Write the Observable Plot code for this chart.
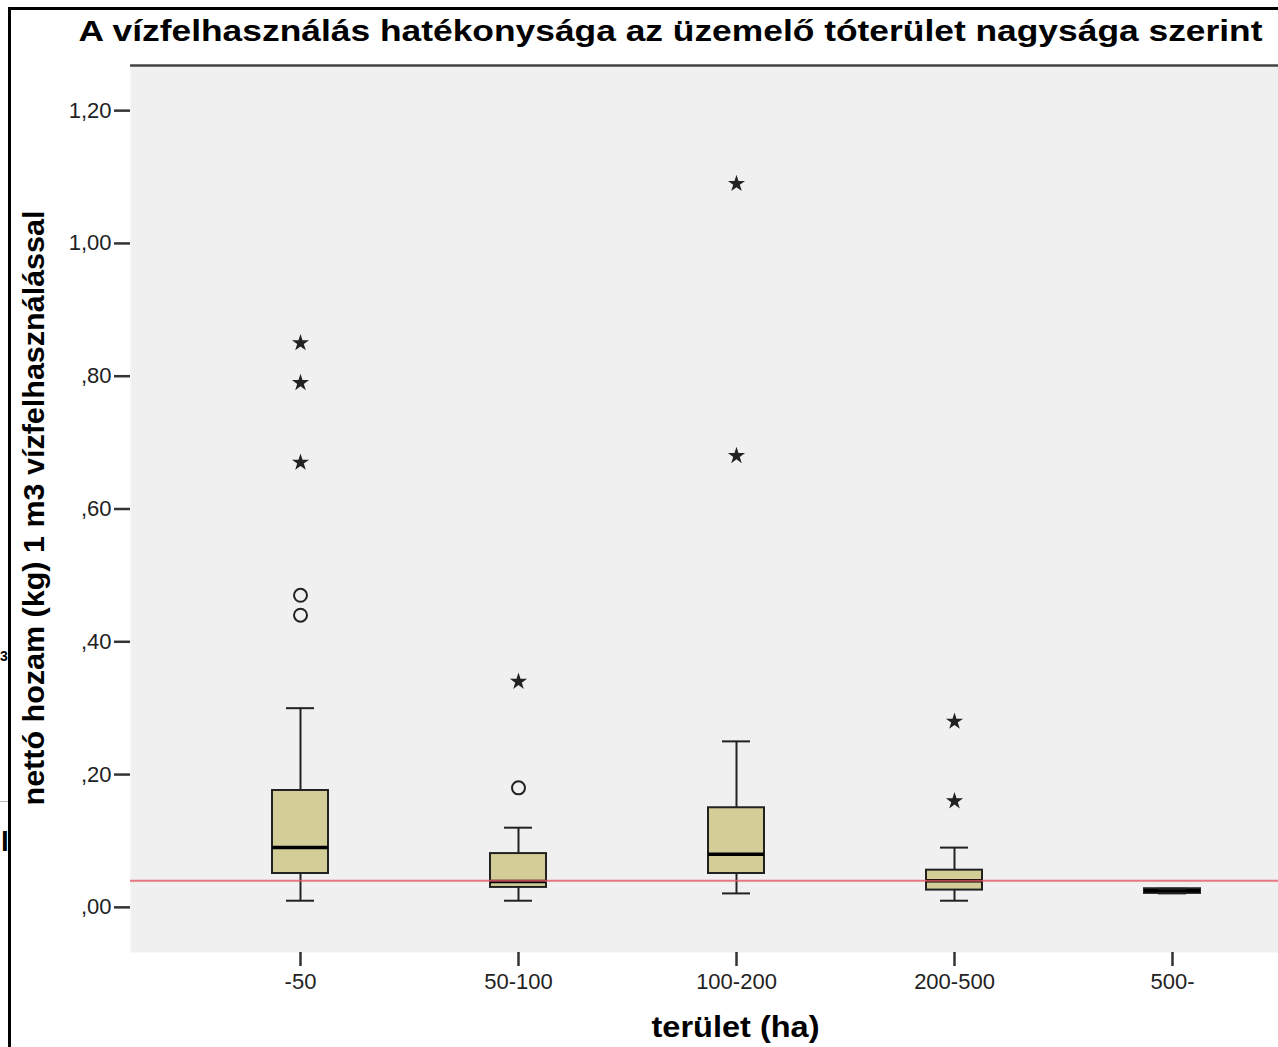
<!DOCTYPE html>
<html>
<head>
<meta charset="utf-8">
<script src="https://cdn.jsdelivr.net/npm/d3@7"></script>
<script src="https://cdn.jsdelivr.net/npm/@observablehq/plot@0.6"></script>
<style>
  html, body { margin: 0; padding: 0; background: #fff; }
  #page { position: relative; width: 1278px; height: 1047px; overflow: hidden; background: #fff;
          font-family: "Liberation Sans", Arial, sans-serif; }
  #chart { position: absolute; left: 0; top: 0; }
  #frame { position: absolute; left: 8px; top: 7px; width: 1300px; height: 1100px;
           border-left: 3px solid #000; border-top: 3px solid #000; pointer-events: none; z-index: 2; }
  .edge { position: absolute; font-weight: bold; color: #000; z-index: 3; line-height: 1; }
  #stub { position: absolute; left: 0; top: 801px; width: 8px; height: 1px; background: #bbb; }
</style>
</head>
<body>
<div id="page">
  <div id="chart"></div>
  <div id="frame"></div>
  <div id="stub"></div>
  <span class="edge" style="left:0px;top:649px;font-size:14px;">3</span>
  <span class="edge" style="left:1px;top:828px;font-size:28px;">l</span>
</div>
<script>
// ---- data ----
const categories   = ["-50", "50-100", "100-200", "200-500", "500-"];
const whiskerLow   = [0.010, 0.010, 0.021, 0.010, 0.021];
const quartile1    = [0.051, 0.030, 0.051, 0.026, 0.021];
const medians      = [0.090, 0.039, 0.080, 0.040, 0.025];
const quartile3    = [0.176, 0.081, 0.150, 0.056, 0.028];
const whiskerHigh  = [0.300, 0.120, 0.250, 0.090, 0.028];

const outlierCats  = ["-50", "-50", "50-100"];
const outlierVals  = [0.47, 0.44, 0.18];

const extremeCats  = ["-50", "-50", "-50", "50-100", "100-200", "100-200", "200-500", "200-500"];
const extremeVals  = [0.85, 0.79, 0.67, 0.34, 1.09, 0.68, 0.28, 0.16];

const referenceLine = [0.04];

const yTicks      = [0, 0.2, 0.4, 0.6, 0.8, 1.0, 1.2];
const yTickLabels = [",00", ",20", ",40", ",60", ",80", "1,00", "1,20"];
const yDomain     = [-0.068, 1.268];

const titleText  = "A vízfelhasználás hatékonysága az üzemelő tóterület nagysága szerint";
const xLabelText = "terület (ha)";
const yLabelText = "nettó hozam (kg) 1 m3 vízfelhasználással";

// ---- tables ----
const boxes = categories.map((c, i) => ({
  cat: c, lo: whiskerLow[i], q1: quartile1[i], med: medians[i], q3: quartile3[i], hi: whiskerHigh[i]
}));
const outliers = outlierCats.map((c, i) => ({cat: c, v: outlierVals[i]}));
const extremes = extremeCats.map((c, i) => ({cat: c, v: extremeVals[i]}));

const FONT = "'Liberation Sans', Arial, sans-serif";
const INK = "#222";

const chart = Plot.plot({
  width: 1278,
  height: 1047,
  marginTop: 65,
  marginLeft: 130,
  marginRight: 0,
  marginBottom: 95,
  style: {fontFamily: FONT, fontSize: "22px", background: "transparent", color: INK},
  x: {type: "band", domain: categories, range: [130, 1342], paddingInner: 0.7437, paddingOuter: 0.6453},
  y: {domain: yDomain},
  marks: [
    Plot.frame({fill: "#f0f0f0", stroke: null}),
    Plot.ruleY([yDomain[1]], {stroke: "#444", strokeWidth: 2.5}),
    Plot.axisY(yTicks, {
      tickSize: 16, tickPadding: 3, line: true, stroke: "#333", strokeWidth: 2.5,
      tickFormat: d => yTickLabels[yTicks.indexOf(d)], label: null, fontSize: 22, fill: INK
    }),
    Plot.axisX({
      tickSize: 14, tickPadding: 7, line: true, stroke: "#333", strokeWidth: 2.5,
      label: null, fontSize: 22, fill: INK
    }),
    // whiskers
    Plot.ruleX(boxes, {x: "cat", y1: "lo", y2: "hi", stroke: INK, strokeWidth: 2}),
    // boxes
    Plot.barY(boxes, {x: "cat", y1: "q1", y2: "q3", fill: "#d3ce97", stroke: INK, strokeWidth: 2}),
    // medians
    Plot.tickY(boxes, {x: "cat", y: "med", stroke: "#000", strokeWidth: 3.5}),
    // whisker caps
    Plot.tickY(boxes, {x: "cat", y: "lo", stroke: INK, strokeWidth: 2, insetLeft: 14, insetRight: 14}),
    Plot.tickY(boxes, {x: "cat", y: "hi", stroke: INK, strokeWidth: 2, insetLeft: 14, insetRight: 14}),
    // outliers and extremes
    Plot.dot(outliers, {x: "cat", y: "v", r: 6.5, stroke: INK, strokeWidth: 2, fill: "none"}),
    Plot.dot(extremes, {x: "cat", y: "v", symbol: "star", r: 5.4, fill: INK, stroke: null}),
    // reference line
    Plot.ruleY(referenceLine, {stroke: "#e05a64", strokeWidth: 2, strokeOpacity: 0.8}),
    // title and axis labels
    Plot.text([titleText], {
      text: d => d, frameAnchor: "top-left", textAnchor: "start", lineAnchor: "bottom",
      dx: -52, dy: -25, fontSize: 30, fontWeight: "bold", fill: "#000"
    }),
    Plot.text([xLabelText], {
      text: d => d, frameAnchor: "bottom", textAnchor: "middle", lineAnchor: "bottom",
      dx: 31, dy: 84, fontSize: 30, fontWeight: "bold", fill: "#000"
    }),
    Plot.text([yLabelText], {
      text: d => d, frameAnchor: "left", textAnchor: "middle", lineAnchor: "bottom",
      rotate: -90, dx: -87, dy: -1, fontSize: 30, fontWeight: "bold", fill: "#000"
    })
  ]
});

// the reference's bold texts are set a little wider than the installed font
const stretch = new Map([[titleText, 1184], [xLabelText, 168], [yLabelText, 595]]);
d3.select(chart).selectAll("text").each(function () {
  const w = stretch.get(this.textContent);
  if (w) d3.select(this).attr("textLength", w).attr("lengthAdjust", "spacingAndGlyphs");
});

document.getElementById("chart").appendChild(chart);
</script>
</body>
</html>
